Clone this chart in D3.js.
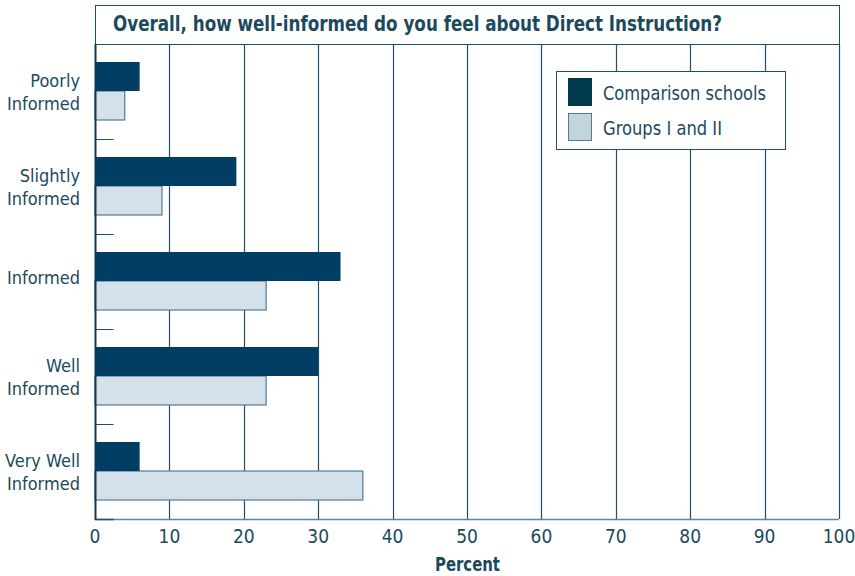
<!DOCTYPE html>
<html>
<head>
<meta charset="utf-8">
<script src="https://cdn.jsdelivr.net/npm/d3@7"></script>
<style>
  body { margin: 0; background: #fff; }
  svg { display: block; font-family: 'DejaVu Sans Condensed', 'Roboto', sans-serif; }
</style>
</head>
<body>
<div class="chart"></div>
<script>
const categories = ['Poorly Informed', 'Slightly Informed', 'Informed', 'Well Informed', 'Very Well Informed']
const categoryLines = [['Poorly', 'Informed'], ['Slightly', 'Informed'], ['Informed'], ['Well', 'Informed'], ['Very Well', 'Informed']]
const comparison = [6, 19, 33, 30, 6]
const groups = [4, 9, 23, 23, 36]
const xTicks = [0, 10, 20, 30, 40, 50, 60, 70, 80, 90, 100]
const seriesNames = ['Comparison schools', 'Groups I and II']
const title = 'Overall, how well-informed do you feel about Direct Instruction?'

const width = 855
const height = 576
const margin = { top: 44, right: 16, bottom: 57, left: 95 }
const innerW = width - margin.left - margin.right
const innerH = height - margin.top - margin.bottom

const textColor = '#1b4a5c'
const darkFill = '#003f63'
const lightFill = '#d4e1ea'
const lightStroke = '#4f7c99'
const gridColor = '#1d4f6e'

const svg = d3.select('.chart')
  .append('svg')
  .attr('width', width)
  .attr('height', height)

// title box
svg.append('rect')
  .attr('x', margin.left + 0.5)
  .attr('y', 5.5)
  .attr('width', innerW)
  .attr('height', margin.top - 5)
  .attr('fill', '#fff')
  .attr('stroke', gridColor)
  .attr('stroke-width', 1)

svg.append('text')
  .attr('x', 113)
  .attr('y', 31)
  .attr('fill', textColor)
  .attr('font-size', 21)
  .attr('font-weight', 'bold')
  .attr('textLength', 609)
  .attr('lengthAdjust', 'spacingAndGlyphs')
  .text(title)

const g = svg.append('g')
  .attr('transform', `translate(${margin.left},${margin.top})`)

const x = d3.scaleLinear().domain([0, 100]).range([0, innerW])
const y = d3.scaleBand().domain(categories).range([0, innerH]).paddingInner(0).paddingOuter(0)
const inner = d3.scaleBand().domain(seriesNames).range([18, y.bandwidth() - 19])

// gridlines
g.selectAll('.grid')
  .data(xTicks.filter((d) => d > 0))
  .enter()
  .append('line')
  .attr('x1', (d) => Math.round(x(d)) + 0.5)
  .attr('x2', (d) => Math.round(x(d)) + 0.5)
  .attr('y1', 0)
  .attr('y2', innerH)
  .attr('stroke', gridColor)
  .attr('stroke-width', 1.2)

// short separators at band boundaries
g.selectAll('.sep')
  .data(categories.slice(1))
  .enter()
  .append('line')
  .attr('x1', 0)
  .attr('x2', x(2.5))
  .attr('y1', (d) => y(d) + 0.5)
  .attr('y2', (d) => y(d) + 0.5)
  .attr('stroke', gridColor)
  .attr('stroke-width', 1)

const rows = g.selectAll('.row')
  .data(categories)
  .enter()
  .append('g')
  .attr('transform', (d) => `translate(0,${y(d)})`)

rows.append('rect')
  .attr('x', 0)
  .attr('y', inner(seriesNames[1]))
  .attr('width', (d, i) => x(groups[i]))
  .attr('height', inner.bandwidth())
  .attr('fill', lightFill)
  .attr('stroke', lightStroke)
  .attr('stroke-width', 1.2)

rows.append('rect')
  .attr('x', 0)
  .attr('y', inner(seriesNames[0]))
  .attr('width', (d, i) => x(comparison[i]))
  .attr('height', inner.bandwidth())
  .attr('fill', darkFill)

// category labels
rows.each(function (d, i) {
  const lines = categoryLines[i]
  const t = d3.select(this).append('text')
    .attr('text-anchor', 'end')
    .attr('fill', textColor)
    .attr('font-size', 18)
  const mid = y.bandwidth() / 2 + (lines.length > 1 ? 0.5 : -4.5)
  lines.forEach((line, j) => {
    t.append('tspan')
      .attr('x', -15)
      .attr('y', mid + (j - (lines.length - 1) / 2) * 23.5 + 6.5)
      .text(line)
  })
})

// bottom axis
g.append('line')
  .attr('x1', 0)
  .attr('x2', innerW)
  .attr('y1', innerH + 0.5)
  .attr('y2', innerH + 0.5)
  .attr('stroke', '#5a88a4')
  .attr('stroke-width', 1.5)

g.append('line')
  .attr('x1', 0)
  .attr('x2', x(2.5))
  .attr('y1', innerH + 0.5)
  .attr('y2', innerH + 0.5)
  .attr('stroke', gridColor)
  .attr('stroke-width', 1.5)

// left axis
g.append('line')
  .attr('x1', 0.5)
  .attr('x2', 0.5)
  .attr('y1', 0)
  .attr('y2', innerH + 1)
  .attr('stroke', '#12384e')
  .attr('stroke-width', 2)

g.selectAll('.xlabel')
  .data(xTicks)
  .enter()
  .append('text')
  .attr('x', (d) => x(d))
  .attr('y', innerH + 24)
  .attr('text-anchor', 'middle')
  .attr('fill', textColor)
  .attr('font-size', 19)
  .text((d) => d)

svg.append('text')
  .attr('x', margin.left + x(50) - 32)
  .attr('y', 571)
  .attr('fill', textColor)
  .attr('font-size', 19)
  .attr('font-weight', 'bold')
  .attr('textLength', 65)
  .attr('lengthAdjust', 'spacingAndGlyphs')
  .text('Percent')

// legend
const legend = svg.append('g').attr('transform', 'translate(556,71)')
legend.append('rect')
  .attr('x', 0.5)
  .attr('y', 0.5)
  .attr('width', 229)
  .attr('height', 78)
  .attr('fill', '#fff')
  .attr('stroke', gridColor)
  .attr('stroke-width', 1)

const swatchFill = ['#003a4c', '#c2d4dc']
const swatchStroke = ['#003a4c', '#4f7c99']
const legendWidths = [163, 119]
seriesNames.forEach((name, i) => {
  legend.append('rect')
    .attr('x', 12.5)
    .attr('y', 7.5 + i * 35)
    .attr('width', 23)
    .attr('height', 27)
    .attr('fill', swatchFill[i])
    .attr('stroke', swatchStroke[i])
    .attr('stroke-width', 1)
  legend.append('text')
    .attr('x', 47)
    .attr('y', 29 + i * 35)
    .attr('fill', textColor)
    .attr('font-size', 20)
    .attr('textLength', legendWidths[i])
    .attr('lengthAdjust', 'spacingAndGlyphs')
    .text(name)
})
</script>
</body>
</html>
